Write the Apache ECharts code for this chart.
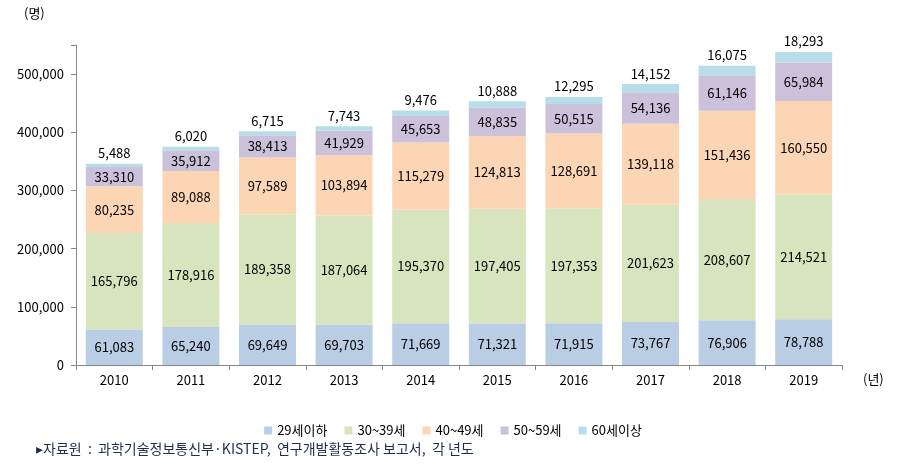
<!DOCTYPE html>
<html><head><meta charset="utf-8">
<script src="https://cdn.jsdelivr.net/npm/echarts@6/dist/echarts.min.js"></script>
<style>html,body{margin:0;padding:0;background:#fff}#c{width:906px;height:472px}</style>
</head><body><div id="c"></div>
<script>
const years = ['2010','2011','2012','2013','2014','2015','2016','2017','2018','2019'];
const age29 = [61083, 65240, 69649, 69703, 71669, 71321, 71915, 73767, 76906, 78788];
const age30 = [165796, 178916, 189358, 187064, 195370, 197405, 197353, 201623, 208607, 214521];
const age40 = [80235, 89088, 97589, 103894, 115279, 124813, 128691, 139118, 151436, 160550];
const age50 = [33310, 35912, 38413, 41929, 45653, 48835, 50515, 54136, 61146, 65984];
const age60 = [5488, 6020, 6715, 7743, 9476, 10888, 12295, 14152, 16075, 18293];
const seriesNames = ['29세이하','30~39세','40~49세','50~59세','60세이상'];
const seriesData = [age29, age30, age40, age50, age60];
const colors = ['#b9cde5','#d7e4bd','#fcd5b5','#ccc1da','#b7dee8'];
const FONT = '"Noto Sans CJK KR", "Noto Sans", sans-serif';
const fmt = v => v.toLocaleString('en-US');

const chart = echarts.init(document.getElementById('c'));
chart.setOption({
  animation: false,
  textStyle: {fontFamily: FONT},
  grid: {left: 76, right: 64, top: 45, bottom: 107, containLabel: false},
  legend: {
    top: 419, left: 'center', itemWidth: 8, itemHeight: 8, itemGap: 17,
    icon: 'rect',
    textStyle: {fontFamily: FONT, fontSize: 13, color: '#000'},
    data: seriesNames
  },
  xAxis: {
    type: 'category', data: years,
    axisLine: {lineStyle: {color: '#868686'}},
    axisTick: {show: true, alignWithLabel: false, length: 5, lineStyle: {color: '#868686'}},
    axisLabel: {color: '#000', fontSize: 13, fontFamily: FONT, margin: 9}
  },
  yAxis: {
    type: 'value', min: 0, max: 550000, interval: 100000,
    splitLine: {show: false},
    axisLine: {show: true, lineStyle: {color: '#868686'}},
    axisTick: {show: true, length: 5, lineStyle: {color: '#868686'}},
    axisLabel: {color: '#000', fontSize: 13, fontFamily: FONT, margin: 12,
      formatter: v => (v % 100000 === 0 ? fmt(v) : '')}
  },
  series: seriesData.map((d, i) => ({
    name: seriesNames[i], type: 'bar', stack: 'total', data: d,
    barWidth: 57,
    itemStyle: {color: colors[i]},
    label: {
      show: true, position: i === 4 ? 'top' : 'inside',
      distance: 4,
      color: '#000', fontSize: 13, fontFamily: FONT,
      formatter: p => fmt(p.value)
    }
  })),
  graphic: [
    {type: 'text', left: 24, top: 7, style: {text: '(명)', font: '13px ' + FONT, fill: '#000'}},
    {type: 'text', left: 863, top: 373, style: {text: '(년)', font: '13px ' + FONT, fill: '#000'}},
    {type: 'text', left: 36, top: 442, style: {text: '▸자료원  :  과학기술정보통신부·KISTEP,  연구개발활동조사 보고서,  각 년도', font: '14px ' + FONT, fill: '#1f2d4f'}}
  ]
});
</script></body></html>
